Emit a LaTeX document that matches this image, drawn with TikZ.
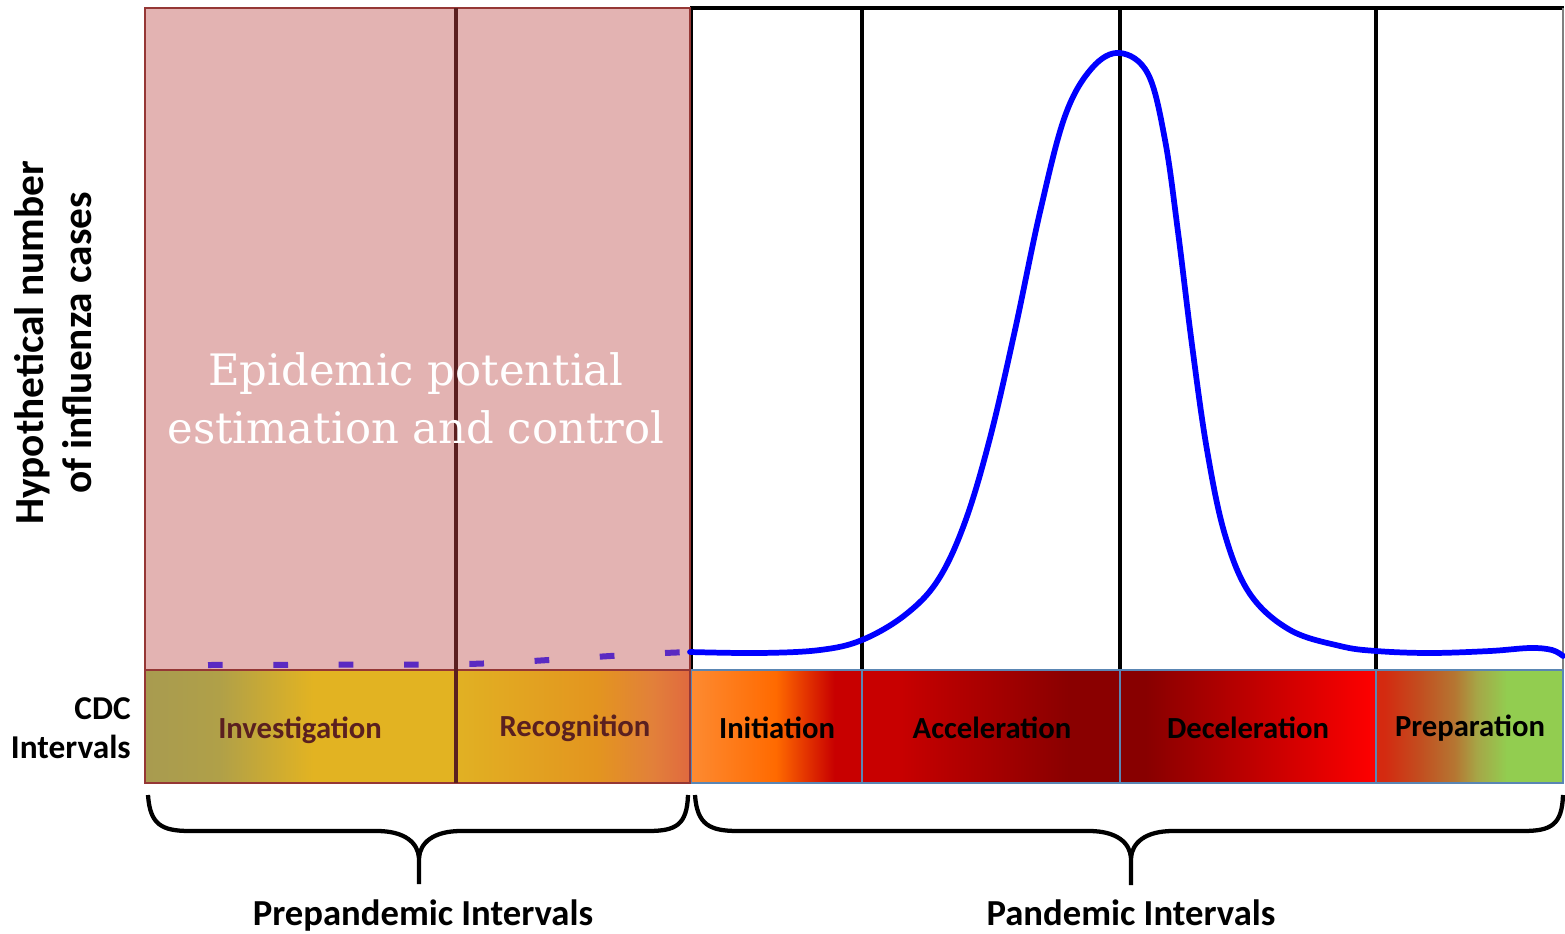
\documentclass[tikz,border=0pt]{standalone}
\usepackage{fontspec}
\setmainfont{Carlito}
\newfontfamily\slab{DejaVu Serif}
\definecolor{pinkfill}{HTML}{E3B3B2}
\definecolor{leftborder}{HTML}{953735}
\definecolor{divider}{HTML}{5B1F1F}
\definecolor{steel}{HTML}{5A86B4}
\definecolor{brownlbl}{HTML}{5A2020}
\definecolor{dashpurple}{HTML}{5A2AC2}
\definecolor{curveblue}{HTML}{0000FF}
% Investigation
\definecolor{iA}{HTML}{A89B50}\definecolor{iB}{HTML}{B0A048}\definecolor{iC}{HTML}{E2B322}
% Recognition
\definecolor{rA}{HTML}{E1B123}\definecolor{rB}{HTML}{E3951F}\definecolor{rC}{HTML}{E2803A}\definecolor{rD}{HTML}{E0693F}
% Initiation
\definecolor{nA}{HTML}{FD8B32}\definecolor{nB}{HTML}{FF6A00}\definecolor{nC}{HTML}{C80000}
% Acceleration
\definecolor{aA}{HTML}{C80000}\definecolor{aB}{HTML}{8A0000}
% Deceleration
\definecolor{dA}{HTML}{880000}\definecolor{dB}{HTML}{FF0000}
% Preparation
\definecolor{pA}{HTML}{D42A10}\definecolor{pB}{HTML}{C24F20}\definecolor{pC}{HTML}{B57632}\definecolor{pD}{HTML}{A6A647}\definecolor{pE}{HTML}{92CD50}
% positions p in [0,1] map to 25+50p bp
\pgfdeclarehorizontalshading{sInv}{100bp}{color(0bp)=(iA); color(25bp)=(iA); color(37bp)=(iB); color(52bp)=(iC); color(100bp)=(iC)}
\pgfdeclarehorizontalshading{sRec}{100bp}{color(0bp)=(rA); color(25bp)=(rA); color(55bp)=(rB); color(67bp)=(rC); color(75bp)=(rD); color(100bp)=(rD)}
\pgfdeclarehorizontalshading{sIni}{100bp}{color(0bp)=(nA); color(25bp)=(nA); color(50bp)=(nB); color(67bp)=(nC); color(100bp)=(nC)}
\pgfdeclarehorizontalshading{sAcc}{100bp}{color(0bp)=(aA); color(32bp)=(aA); color(65bp)=(aB); color(100bp)=(aB)}
\pgfdeclarehorizontalshading{sDec}{100bp}{color(0bp)=(dA); color(30bp)=(dA); color(75bp)=(dB); color(100bp)=(dB)}
\pgfdeclarehorizontalshading{sPre}{100bp}{color(0bp)=(pA); color(27bp)=(pA); color(37bp)=(pB); color(46bp)=(pC); color(52bp)=(pD); color(60bp)=(pE); color(100bp)=(pE)}
\tikzset{
  bandlbl/.style={font=\bfseries\fontsize{23}{27}\selectfont, inner sep=0pt},
  bottomlbl/.style={font=\bfseries\fontsize{27.5}{32}\selectfont, inner sep=0pt},
  bracestyle/.style={line width=3.2pt, black, line join=round},
  gridline/.style={black, line width=3pt},
  stealline/.style={steel, line width=1.5pt},
}
\begin{document}
\begin{tikzpicture}[x=0.75pt,y=-0.75pt]
\useasboundingbox (0,0) rectangle (1565,934);
% pink area
\fill[pinkfill] (145,8) rectangle (690,670);
% white area frame
\draw[black, line width=1.2pt] (692,8) -- (692,670);
\draw[black, line width=3pt] (690,8) -- (1564,8);
\draw[gray, line width=0.9pt] (1563,8) -- (1563,670);
\foreach \x in {862,1120,1376} \draw[gridline] (\x,8) -- (\x,670);
% band shadings
\path[shade, shading=sInv] (145,670) rectangle (456,783);
\path[shade, shading=sRec] (456,670) rectangle (690,783);
\path[shade, shading=sIni] (690,670) rectangle (862,783);
\path[shade, shading=sAcc] (862,670) rectangle (1120,783);
\path[shade, shading=sDec] (1120,670) rectangle (1376,783);
\path[shade, shading=sPre] (1376,670) rectangle (1563,783);
% borders
\draw[stealline] (691,670) rectangle (1563,783);
\foreach \x in {862,1120,1376} \draw[stealline] (\x,670) -- (\x,783);
\draw[leftborder, line width=2pt] (145,8) rectangle (690,783);
\draw[leftborder, line width=2pt] (145,670) -- (690,670);
\draw[divider, line width=3pt] (456,8) -- (456,783);
% epidemic text
\node[text=white, align=center, font=\slab\fontsize{32.5}{43.5}\selectfont, inner sep=0pt] (epi) at (416,398) {Epidemic potential\\estimation and control};
% dashed prepandemic line
\draw[dashpurple, line width=4.5pt, dash pattern=on 11pt off 38pt] (208,665) -- (440,664.5) .. controls (520,664) and (600,655) .. (690,652);
% curve
\draw[curveblue, line width=4.3pt, line join=round, line cap=round] plot[smooth, tension=0.6] coordinates {
 (690,652) (760,653) (820,650) (862,640) (905,615) (938,580) (965,522) (990,438) (1015,330) (1040,212) (1065,116) (1092,68) (1120,53) (1148,74) (1165,140) (1178,232) (1192,345) (1207,450) (1225,535) (1250,594) (1290,630) (1340,646) (1376,651) (1430,653) (1490,651) (1530,648) (1552,650) (1563,656)};
% band labels
\node[bandlbl, text=brownlbl] (inv) at (300,730) {Investigation};
\node[bandlbl, text=brownlbl] (rec) at (575,728) {Recognition};
\node[bandlbl] (ini) at (777,728) {Initiation};
\node[bandlbl] (acc) at (992,728) {Acceleration};
\node[bandlbl] (dec) at (1248,728) {Deceleration};
\node[bandlbl] (pre) at (1470,728) {Preparation};
% CDC label
\node[anchor=east, align=right, font=\bfseries\fontsize{25}{29}\selectfont, inner sep=0pt] (cdc) at (131,728) {CDC\\Intervals};
% y-axis label
\node[rotate=90, align=center, font=\bfseries\fontsize{31}{36}\selectfont, inner sep=0pt] (ylab) at (53,343) {Hypothetical number\\of influenza cases};
% braces
\coordinate (lb1) at (148,795);
\coordinate (lb2) at (688,795);
\coordinate (lbt) at (419,884);
\draw[bracestyle] (lb1) .. controls (150,825) and (162,831) .. (190,831) -- (377,831) .. controls (405,831) and (418,843) .. (419,858) -- (lbt);
\draw[bracestyle] (419,858) .. controls (420,843) and (433,831) .. (461,831) -- (648,831) .. controls (676,831) and (687,825) .. (lb2);
\coordinate (rb1) at (695,795);
\coordinate (rb2) at (1563,795);
\coordinate (rbt) at (1131,885);
\draw[bracestyle] (rb1) .. controls (697,825) and (710,831) .. (738,831) -- (1089,831) .. controls (1117,831) and (1130,843) .. (1131,858) -- (rbt);
\draw[bracestyle] (1131,858) .. controls (1132,843) and (1145,831) .. (1173,831) -- (1523,831) .. controls (1551,831) and (1562,825) .. (rb2);
\node[bottomlbl] (prep) at (423,916) {Prepandemic Intervals};
\node[bottomlbl] (pand) at (1131,913) {Pandemic Intervals};
\end{tikzpicture}
\end{document}
